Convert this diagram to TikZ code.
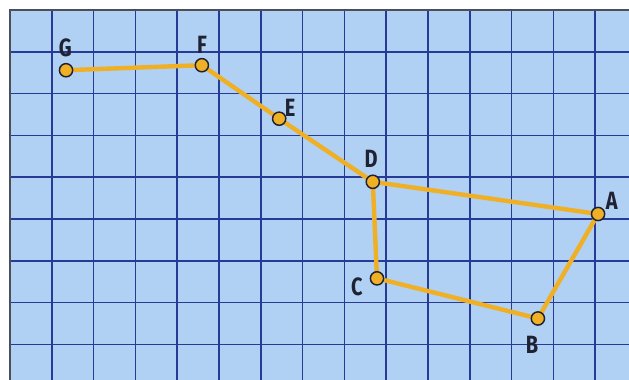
\documentclass[tikz,border=0pt]{standalone}
\usepackage{fontspec}
\newfontfamily\lblfont{Fira Sans}
\definecolor{paper}{RGB}{176,208,244}
\definecolor{gridblue}{RGB}{38,58,150}
\definecolor{starline}{RGB}{240,176,38}
\definecolor{ink}{RGB}{30,34,50}
\tikzset{
  gridline/.style={draw=gridblue, line width=1.1pt},
  constline/.style={draw=starline, line width=3pt, line join=round},
  star/.style={circle, draw=ink, fill=starline, line width=1pt, minimum size=9pt, inner sep=0pt},
  lbl/.style={text=ink, font=\lblfont\bfseries\fontsize{17}{17}\selectfont}
}
\newcommand\lettre[1]{\scalebox{0.8}[1]{#1}}
\begin{document}
\begin{tikzpicture}
  % cadre
  \useasboundingbox (-0.24,0.24) rectangle (14.81,-8.85);
  \fill[white] (-0.24,0.24) rectangle (14.81,-8.85);
  \fill[paper] (0,0) rectangle (14.81,-8.85);

  % quadrillage
  \foreach \x in {1,...,14} \draw[gridline] (\x,0) -- (\x,-8.85);
  \foreach \y in {1,...,8} \draw[gridline] (0,-\y) -- (14.81,-\y);
  \draw[draw=ink!80, line width=1.2pt] (0,-8.85) -- (0,0) -- (14.81,0);

  % positions des etoiles
  \coordinate (G) at (1.34,-1.44);
  \coordinate (F) at (4.59,-1.32);
  \coordinate (E) at (6.44,-2.60);
  \coordinate (D) at (8.68,-4.11);
  \coordinate (A) at (14.07,-4.88);
  \coordinate (B) at (12.63,-7.38);
  \coordinate (C) at (8.78,-6.42);

  % trace de la constellation
  \draw[constline] (G) -- (F) -- (E) -- (D) -- (A) -- (B) -- (C) -- (D);

  % etoiles
  \node[star] (sG) at (G) {};
  \node[star] (sF) at (F) {};
  \node[star] (sE) at (E) {};
  \node[star] (sD) at (D) {};
  \node[star] (sA) at (A) {};
  \node[star] (sB) at (B) {};
  \node[star] (sC) at (C) {};

  % lettres
  \node[lbl] (lG) at (1.32,-0.91) {\lettre{G}};
  \node[lbl] (lF) at (4.59,-0.84) {\lettre{F}};
  \node[lbl] (lE) at (6.70,-2.33) {\lettre{E}};
  \node[lbl] (lD) at (8.64,-3.56) {\lettre{D}};
  \node[lbl] (lA) at (14.40,-4.57) {\lettre{A}};
  \node[lbl] (lB) at (12.49,-8.00) {\lettre{B}};
  \node[lbl] (lC) at (8.30,-6.63) {\lettre{C}};
\end{tikzpicture}
\end{document}
